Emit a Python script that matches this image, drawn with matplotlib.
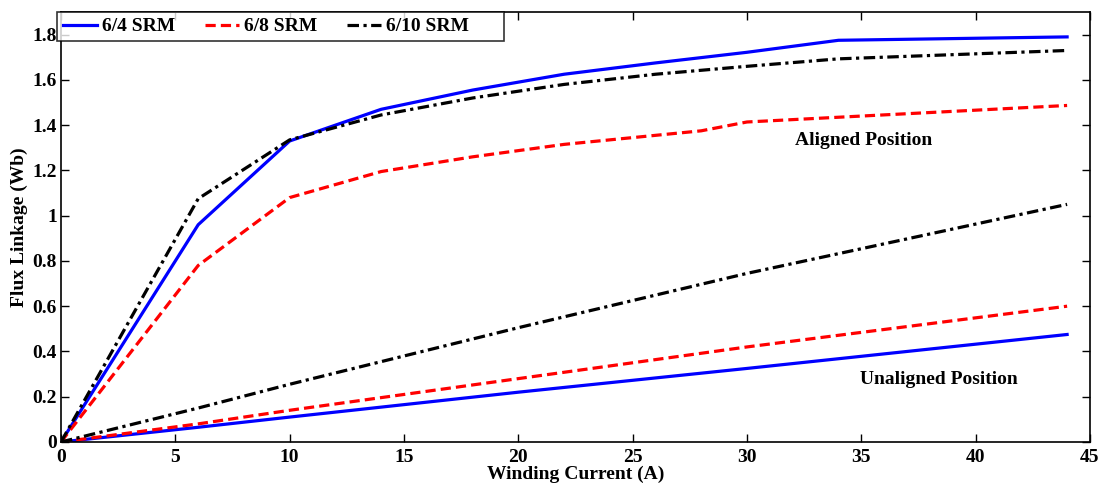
import numpy as np
import matplotlib
matplotlib.use("Agg")
import matplotlib.pyplot as plt

plt.rcParams['font.family'] = ['Liberation Serif', 'DejaVu Serif']
plt.rcParams['font.weight'] = 'bold'

# aligned position curves
cur_al = [0, 6, 10, 14, 18, 22, 26, 30, 34, 44]
srm64_al = [0, 0.96, 1.33, 1.47, 1.555, 1.625, 1.675, 1.722, 1.775, 1.79]
cur_al8 = [0, 6, 10, 14, 18, 22, 26, 28, 30, 34, 44]
srm68_al = [0, 0.78, 1.08, 1.195, 1.26, 1.315, 1.355, 1.375, 1.414, 1.435, 1.487]
srm610_al = [0, 1.075, 1.335, 1.445, 1.52, 1.58, 1.625, 1.66, 1.693, 1.73]

# unaligned position curves
cur_un = [0, 6, 10, 20, 30, 44]
srm64_un = [0, 0.065, 0.11, 0.22, 0.325, 0.475]
srm68_un = [0, 0.08, 0.14, 0.28, 0.42, 0.60]
srm610_un = [0, 0.15, 0.255, 0.505, 0.745, 1.05]

fig = plt.figure(figsize=(11.05, 4.9), dpi=100)
ax = fig.add_axes([0.0552, 0.098, 0.9312, 0.8775])

lw = 2.3
dash = (0, (3.2, 1.6))
dashdot = (0, (3.6, 1.4, 1, 1.4))
l1, = ax.plot(cur_al, srm64_al, color='#0000ff', lw=lw, label='6/4 SRM')
l2, = ax.plot(cur_al8, srm68_al, color='#ff0000', lw=lw, ls=dash, label='6/8 SRM')
# trailing spaces widen the legend box on the right like the original
l3, = ax.plot(cur_al, srm610_al, color='black', lw=lw, ls=dashdot, label='6/10 SRM      ')
ax.plot(cur_un, srm64_un, color='#0000ff', lw=lw)
ax.plot(cur_un, srm68_un, color='#ff0000', lw=lw, ls=dash)
ax.plot(cur_un, srm610_un, color='black', lw=lw, ls=dashdot)

ax.set_xlim(0, 45)
ax.set_ylim(0, 1.9)
ax.set_xticks(np.arange(0, 46, 5))
ax.set_yticks(np.arange(0, 1.81, 0.2))
ax.set_yticklabels(['0', '0.2', '0.4', '0.6', '0.8', '1', '1.2', '1.4', '1.6', '1.8'])
ax.tick_params(direction='in', top=True, right=True, labelsize=14, length=6, width=1)
ax.tick_params(axis='x', pad=5)
ax.tick_params(axis='y', pad=3)
for lab in ax.get_xticklabels() + ax.get_yticklabels():
    lab.set_fontweight('bold')
for s in ax.spines.values():
    s.set_linewidth(1.2)

ax.set_xlabel('Winding Current (A)', fontsize=14, fontweight='bold', labelpad=0)
ax.set_ylabel('Flux Linkage (Wb)', fontsize=14, fontweight='bold', labelpad=3)

ax.text(35.1, 1.33, 'Aligned Position', fontsize=14, fontweight='bold', ha='center', va='center')
ax.text(38.4, 0.274, 'Unaligned Position', fontsize=14, fontweight='bold', ha='center', va='center')

leg = ax.legend(handles=[l1, l2, l3], loc='upper left', ncol=3, bbox_to_anchor=(-0.004, 1.0),
                fontsize=14, frameon=True, fancybox=False, edgecolor='black',
                borderpad=0.3, handlelength=1.75, handletextpad=0.25, columnspacing=1.55,
                borderaxespad=0)
leg.get_frame().set_linewidth(1.2)
for t in leg.get_texts():
    t.set_fontweight('bold')

fig.savefig('out.png', dpi=100)
